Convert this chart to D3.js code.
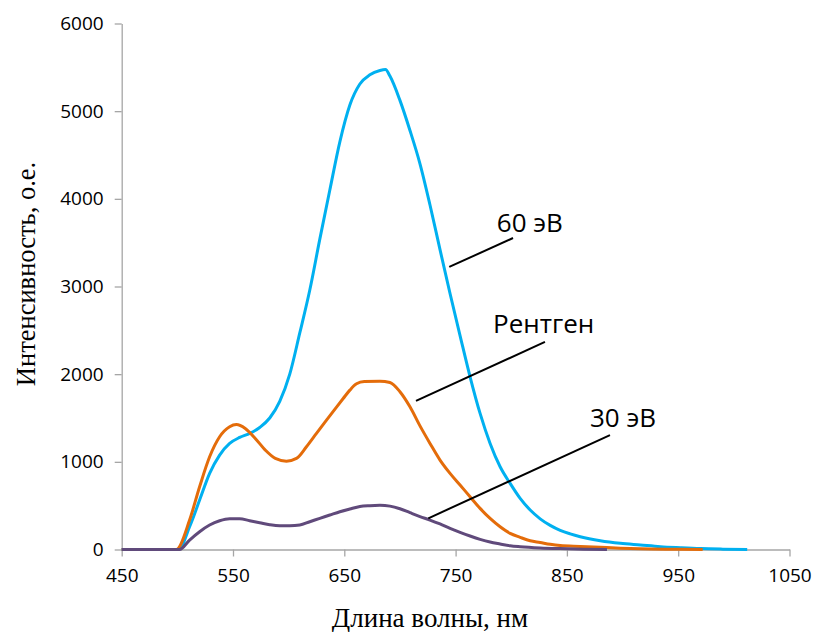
<!DOCTYPE html>
<html>
<head>
<meta charset="utf-8">
<script src="https://cdn.jsdelivr.net/npm/d3@7"></script>
<style>
  body { margin: 0; background: #fff; }
  svg { display: block; }
</style>
</head>
<body>
<svg id="chart"></svg>
<script>
// spectra (wavelength nm, intensity a.u.)
const wl60  = [450, 501, 511, 520, 529, 538, 547, 556, 565, 574, 583, 592, 601, 610, 619, 628, 637, 646, 655, 664, 673, 682, 687, 691, 700, 709, 718, 727, 736, 745, 754, 763, 772, 781, 790, 799, 808, 817, 826, 835, 844, 853, 862, 880, 898, 916, 934, 952, 970, 990, 1012];
const int60 = [0, 0, 260, 564, 868, 1077, 1210, 1278, 1324, 1392, 1500, 1690, 2000, 2470, 2960, 3540, 4100, 4650, 5070, 5310, 5415, 5464, 5475, 5400, 5123, 4780, 4400, 3930, 3420, 2920, 2440, 1970, 1552, 1210, 944, 754, 583, 450, 350, 275, 218, 178, 146, 100, 70, 51, 32, 20, 10, 4, 0];

const wlXray  = [450, 499, 511, 520, 529, 538, 547, 553, 561, 570, 579, 588, 598, 607, 616, 625, 634, 643, 649, 655, 661, 668, 682, 691, 700, 709, 718, 727, 736, 745, 754, 763, 772, 781, 790, 799, 808, 817, 826, 835, 844, 862, 880, 898, 916, 950, 972];
const intXray = [0, 0, 336, 716, 1058, 1286, 1400, 1425, 1381, 1267, 1134, 1039, 1008, 1039, 1172, 1324, 1476, 1625, 1722, 1818, 1890, 1915, 1920, 1905, 1800, 1628, 1410, 1210, 1020, 868, 735, 602, 469, 355, 260, 184, 139, 100, 80, 59, 45, 35, 25, 15, 8, 3, 0];

const wl30  = [450, 502, 511, 520, 529, 538, 547, 556, 565, 574, 583, 592, 601, 610, 619, 628, 637, 646, 655, 664, 673, 682, 691, 700, 709, 718, 727, 736, 745, 754, 763, 772, 781, 790, 799, 808, 826, 844, 865, 886];
const int30 = [0, 0, 108, 203, 279, 328, 351, 351, 328, 306, 283, 271, 271, 279, 317, 355, 393, 431, 462, 490, 500, 505, 495, 465, 420, 376, 336, 291, 241, 196, 154, 116, 85, 63, 43, 32, 18, 10, 4, 0];

const xTicks = [450, 550, 650, 750, 850, 950, 1050];
const yTicks = [0, 1000, 2000, 3000, 4000, 5000, 6000];

// callout labels: text, label anchor, leader line start/end (data units)
const labels   = ["60 эВ", "Рентген", "30 эВ"];
const labelPos = [[787, 3618], [783.6, 2467], [870.7, 1396]];
const leaders  = [
  [[744.3, 3223], [801.6, 3553]],
  [[714.4, 1696], [830.3, 2368]],
  [[725.5, 356], [888.7, 1305]]
];

const width = 813, height = 632;
const svg = d3.select("#chart").attr("width", width).attr("height", height);

const x = d3.scaleLinear().domain([450, 1050]).range([121.7, 789.5]);
const y = d3.scaleLinear().domain([0, 6000]).range([549.5, 23.5]);

const axisColor = "#a6a6a6";

const xAxis = svg.append("g")
  .attr("transform", `translate(0, ${y(0)})`)
  .call(d3.axisBottom(x).tickValues(xTicks).tickSize(7).tickPadding(12).tickSizeOuter(0).tickFormat(d3.format("d")));
const yAxis = svg.append("g")
  .attr("transform", `translate(${x(450)}, 0)`)
  .call(d3.axisLeft(y).tickValues(yTicks).tickSize(7).tickPadding(11).tickSizeOuter(0).tickFormat(d3.format("d")));

[xAxis, yAxis].forEach(a => {
  a.select(".domain").attr("stroke", axisColor).attr("stroke-width", 1.3);
  a.selectAll(".tick line").attr("stroke", axisColor).attr("stroke-width", 1.3);
  a.selectAll(".tick text")
    .attr("fill", "#000")
    .style("font-family", "'Open Sans', sans-serif")
    .style("font-size", "19px");
});

const line = d3.line()
  .x(d => x(d[0]))
  .y(d => y(d[1]))
  .curve(d3.curveMonotoneX);

const series = [
  { wl: wl60, val: int60, color: "#00b0f0" },
  { wl: wlXray, val: intXray, color: "#e46c0a" },
  { wl: wl30, val: int30, color: "#604a7b" }
];

svg.append("g").selectAll("path")
  .data(series)
  .join("path")
  .attr("d", s => line(s.wl.map((w, i) => [w, s.val[i]])))
  .attr("fill", "none")
  .attr("stroke", s => s.color)
  .attr("stroke-width", 3)
  .attr("stroke-linejoin", "round");

// leader lines and labels
svg.append("g").selectAll("line")
  .data(leaders)
  .join("line")
  .attr("x1", d => x(d[0][0])).attr("y1", d => y(d[0][1]))
  .attr("x2", d => x(d[1][0])).attr("y2", d => y(d[1][1]))
  .attr("stroke", "#000")
  .attr("stroke-width", 2);

svg.append("g").selectAll("text")
  .data(labels)
  .join("text")
  .attr("x", (d, i) => x(labelPos[i][0]))
  .attr("y", (d, i) => y(labelPos[i][1]))
  .attr("font-family", "'Open Sans', sans-serif")
  .attr("font-size", 26)
  .attr("fill", "#000")
  .text(d => d);

// axis titles
svg.append("text")
  .attr("x", 430).attr("y", 627)
  .attr("text-anchor", "middle")
  .attr("font-family", "'Liberation Serif', 'Times New Roman', serif")
  .attr("font-size", 27)
  .text("Длина волны, нм");

svg.append("text")
  .attr("transform", "translate(35, 274) rotate(-90)")
  .attr("text-anchor", "middle")
  .attr("font-family", "'Liberation Serif', 'Times New Roman', serif")
  .attr("font-size", 26.5)
  .text("Интенсивность, о.е.");
</script>
</body>
</html>
